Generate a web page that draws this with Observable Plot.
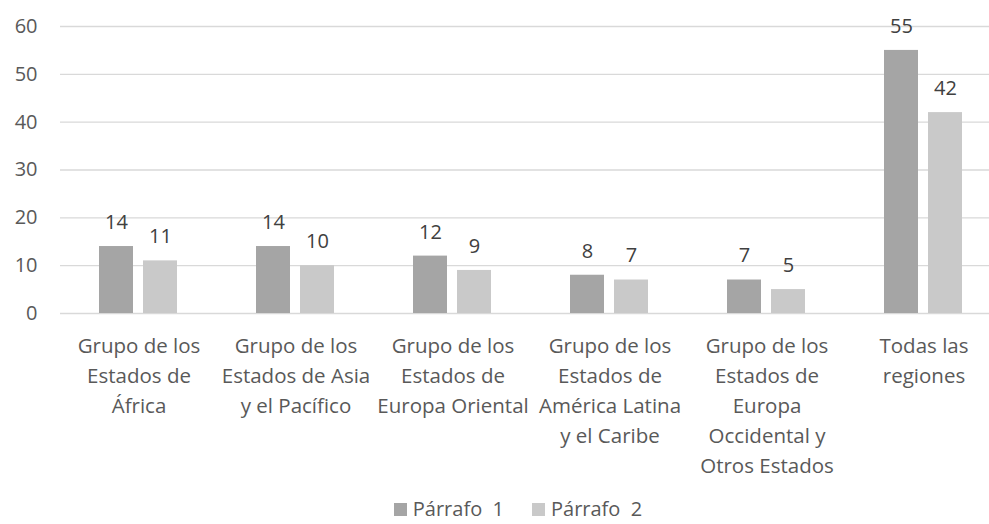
<!DOCTYPE html>
<html>
<head>
<meta charset="utf-8">
<script src="https://cdn.jsdelivr.net/npm/d3@7"></script>
<script src="https://cdn.jsdelivr.net/npm/@observablehq/plot@0.6"></script>
<style>
  html, body { margin: 0; padding: 0; background: #fff; }
  body { width: 989px; height: 524px; overflow: hidden; font-family: "Open Sans", sans-serif; }
  #chart svg { display: block; }
  #legend { display: flex; justify-content: center; align-items: center; width: 989px; box-sizing: border-box; padding-left: 47px; height: 26px; margin-top: 0; font-size: 20px; line-height: 26px; color: #595959; }
  #legend .item { display: flex; align-items: center; margin: 0 14px; }
  #legend .sw { width: 13px; height: 13px; margin-right: 6px; }
  #legend .lab { white-space: pre; }
</style>
</head>
<body>
<div id="chart"></div>
<div id="legend"></div>
<script>
const categories = [
  "Grupo de los Estados de África",
  "Grupo de los Estados de Asia y el Pacífico",
  "Grupo de los Estados de Europa Oriental",
  "Grupo de los Estados de América Latina y el Caribe",
  "Grupo de los Estados de Europa Occidental y Otros Estados",
  "Todas las regiones"
];
const tickLabels = [
  "Grupo de los\nEstados de\nÁfrica",
  "Grupo de los\nEstados de Asia\ny el Pacífico",
  "Grupo de los\nEstados de\nEuropa Oriental",
  "Grupo de los\nEstados de\nAmérica Latina\ny el Caribe",
  "Grupo de los\nEstados de\nEuropa\nOccidental y\nOtros Estados",
  "Todas las\nregiones"
];
const series = ["Párrafo 1", "Párrafo 2"];
const legendLabels = ["Párrafo  1", "Párrafo  2"];
const parrafo1 = [14, 14, 12, 8, 7, 55];
const parrafo2 = [11, 10, 9, 7, 5, 42];
const colors = ["#a5a5a5", "#c9c9c9"];
const yTicks = [0, 10, 20, 30, 40, 50, 60];

const values = [parrafo1, parrafo2];
const data = categories.flatMap((c, i) => series.map((s, j) => ({cat: c, series: s, value: values[j][i]})));
const labelOf = new Map(categories.map((c, i) => [c, tickLabels[i]]));

const chart = Plot.plot({
  width: 989,
  height: 496,
  marginTop: 26,
  marginBottom: 183,
  marginLeft: 58,
  marginRight: 0,
  style: {fontFamily: "'Open Sans', sans-serif", color: "#595959", background: "#fff"},
  fx: {domain: categories, range: [58.3, 1002.7], paddingInner: 0, paddingOuter: 0, label: null},
  x: {domain: series, paddingInner: 0.222, paddingOuter: 0.86, axis: null},
  y: {domain: [0, 60], label: null},
  color: {domain: series, range: colors},
  marks: [
    Plot.ruleY(yTicks, {stroke: "#d9d9d9", strokeWidth: 1.3}),
    Plot.barY(data, {fx: "cat", x: "series", y: "value", fill: "series"}),
    Plot.text(data, {fx: "cat", x: "series", y: "value", text: d => String(d.value), dy: -24, fontSize: 20, fill: "#404040"}),
    Plot.axisY({ticks: yTicks, tickSize: 0, tickPadding: 23, fontSize: 20, label: null}),
    Plot.axisFx({anchor: "bottom", tickSize: 0, tickPadding: 18, fontSize: 20.5, lineHeight: 1.47, label: null, tickFormat: d => labelOf.get(d)})
  ]
});
document.getElementById("chart").append(chart);

const legend = d3.select("#legend");
series.forEach((s, i) => {
  const it = legend.append("div").attr("class", "item");
  it.append("div").attr("class", "sw").style("background", colors[i]);
  it.append("span").attr("class", "lab").text(legendLabels[i]);
});
</script>
</body>
</html>
